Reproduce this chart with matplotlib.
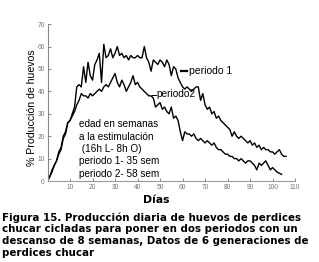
import matplotlib
matplotlib.use("Agg")
import matplotlib.pyplot as plt

plt.rcParams['font.family'] = ['Liberation Sans', 'DejaVu Sans']

# ── Data ──
dias_p1 = list(range(0, 107))
prod_p1 = [0, 2, 5, 7, 9, 13, 15, 20, 22, 26, 27, 30, 33, 42, 43, 42, 51, 44, 53, 47,
           45, 52, 54, 57, 44, 61, 55, 56, 59, 55, 57, 60, 56, 57, 55, 56, 54, 56, 55, 55,
           56, 55, 55, 60, 55, 53, 49, 54, 53, 52, 54, 53, 51, 54, 52, 47, 51, 50, 46, 44,
           42, 41, 42, 41, 40, 41, 42, 42, 36, 39, 34, 32, 33, 30, 31, 28, 29, 27, 26, 25,
           24, 23, 20, 22, 20, 19, 20, 19, 18, 17, 18, 16, 17, 15, 16, 14, 15, 14, 14, 13,
           13, 12, 13, 14, 12, 11, 11]

dias_p2 = list(range(0, 105))
prod_p2 = [0, 2, 4, 7, 9, 12, 14, 19, 21, 26, 27, 29, 31, 34, 36, 39, 38, 38, 37, 39,
           38, 39, 40, 41, 40, 42, 43, 42, 44, 46, 48, 44, 42, 45, 43, 40, 42, 44, 47, 43,
           44, 42, 41, 40, 39, 38, 38, 37, 33, 34, 35, 32, 33, 31, 30, 33, 28, 29, 27, 22,
           18, 22, 21, 21, 20, 21, 19, 18, 19, 18, 17, 18, 17, 16, 17, 15, 14, 14, 13, 12,
           12, 11, 11, 10, 10, 9, 10, 9, 8, 9, 9, 8, 7, 5, 8, 7, 8, 9, 7, 5,
           6, 5, 4, 3.5, 3]

x_ticks = [10, 20, 30, 40, 50, 60, 70, 80, 90, 100, 110]
y_ticks = [0, 10, 20, 30, 40, 50, 60, 70]

caption = ("Figura 15. Producción diaria de huevos de perdices\n"
           "chucar cicladas para poner en dos periodos con un\n"
           "descanso de 8 semanas, Datos de 6 generaciones de\n"
           "perdices chucar")
nota = ("edad en semanas\na la estimulación\n (16h L- 8h O)\n"
        "periodo 1- 35 sem\nperiodo 2- 58 sem")

fig = plt.figure(figsize=(3.19, 2.62), dpi=100)
ax = fig.add_axes([0.149, 0.309, 0.776, 0.599])

ax.plot(dias_p1, prod_p1, color='black', lw=1.0)
ax.plot(dias_p2, prod_p2, color='black', lw=1.0)

ax.set_xlim(0, 110)
ax.set_ylim(0, 70)
ax.set_xticks(x_ticks)
ax.set_yticks(y_ticks)
ax.tick_params(direction='in', length=2.5, width=0.6, colors='#777777',
               labelsize=4.8, pad=2)
for s in ['top', 'right']:
    ax.spines[s].set_visible(False)
ax.spines['left'].set_color('#888888')
ax.spines['left'].set_linewidth(0.8)
ax.spines['bottom'].set_color('#999999')
ax.spines['bottom'].set_linewidth(0.8)
ax.spines['bottom'].set_linestyle((0, (1, 1)))

# series labels with short leaders
ax.plot([59.5, 62], [49.3, 49.3], color='black', lw=1.6)
ax.text(63, 49.3, "periodo 1", fontsize=7.5, va='center', ha='left')
ax.plot([46.5, 48], [38.5, 38.5], color='black', lw=0.7)
ax.text(48.5, 38.8, "periodo2", fontsize=7.3, va='center', ha='left')

ax.text(14, 1.0, nota, fontsize=7.2, va='bottom', ha='left', linespacing=1.3)

fig.text(0.10, 0.588, "% Producción de huevos", rotation=90, fontsize=7.6,
         ha='center', va='center')
fig.text(0.49, 0.237, "Días", fontsize=7.8, fontweight='bold', ha='center', va='center',
         family='DejaVu Sans')
fig.text(0.006, 0.190, caption, fontsize=7.4, fontweight='bold', ha='left', va='top',
         linespacing=1.2, family='DejaVu Sans')

fig.savefig("out.png", dpi=100)
